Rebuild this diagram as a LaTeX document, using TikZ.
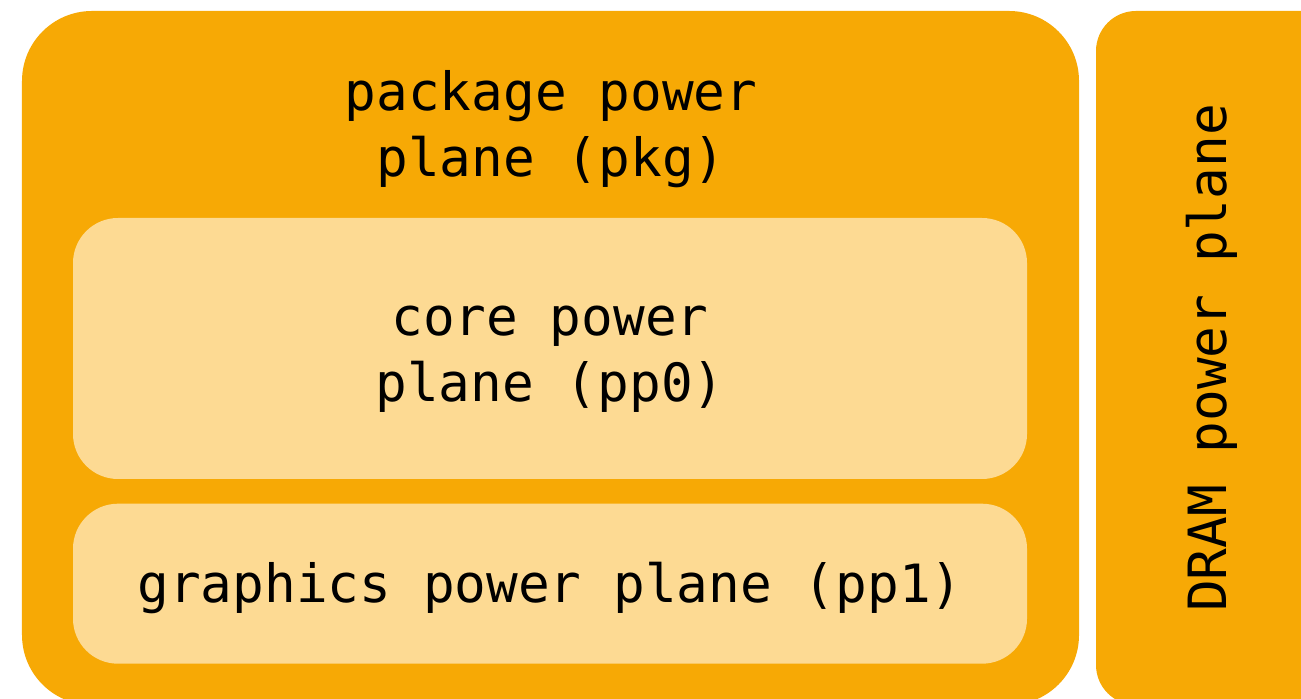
\documentclass[tikz,border=0pt]{standalone}
\usepackage{fontspec}
\setmonofont{DejaVu Sans Mono}
\usepackage{tikz}
\usetikzlibrary{positioning}
\definecolor{planeorange}{HTML}{F7A905}
\definecolor{planelight}{HTML}{FDDA93}
\tikzstyle{plane} = [rectangle,
rounded corners=1.4cm,
inner sep=0pt,
fill=planeorange]
\tikzstyle{subplane} = [rectangle,
rounded corners=0.9cm,
minimum width=19.08cm,
inner sep=0pt,
fill=planelight]
\tikzstyle{planetext} = [align=center,
font=\ttfamily\fontsize{30}{37.5}\selectfont]

\begin{document}
\begin{tikzpicture}
                \useasboundingbox (0,0) rectangle (26.02,13.98);
                \clip (0,0) rectangle (26.02,13.98);
                % outer planes, both run off the page at the bottom (and DRAM at the right)
                \node (pkg) [plane, minimum width=21.14cm, minimum height=13.88cm] at (11.01,6.82) {};
                \node (dram) [plane, rounded corners=0.8cm, minimum width=5.4cm, minimum height=13.88cm] at (24.62,6.82) {};
                \node (core) [subplane, minimum height=5.22cm] at (11.0,7.01) {};
                \node (gfx) [subplane, minimum height=3.2cm, below=0.48cm of core] {};

                \node (pkgtext) [planetext] at (11.02,11.40) {package power\\plane (pkg)};
                \node (coretext) [planetext, yshift=-0.22cm] at (core) {core power\\plane (pp0)};
                \node (gfxtext) [planetext, yshift=-0.08cm] at (gfx) {graphics power plane (pp1)};
                \node (dramtext) [planetext, rotate=90] at (24.24,6.82) {DRAM power plane};
            \end{tikzpicture}
\end{document}
